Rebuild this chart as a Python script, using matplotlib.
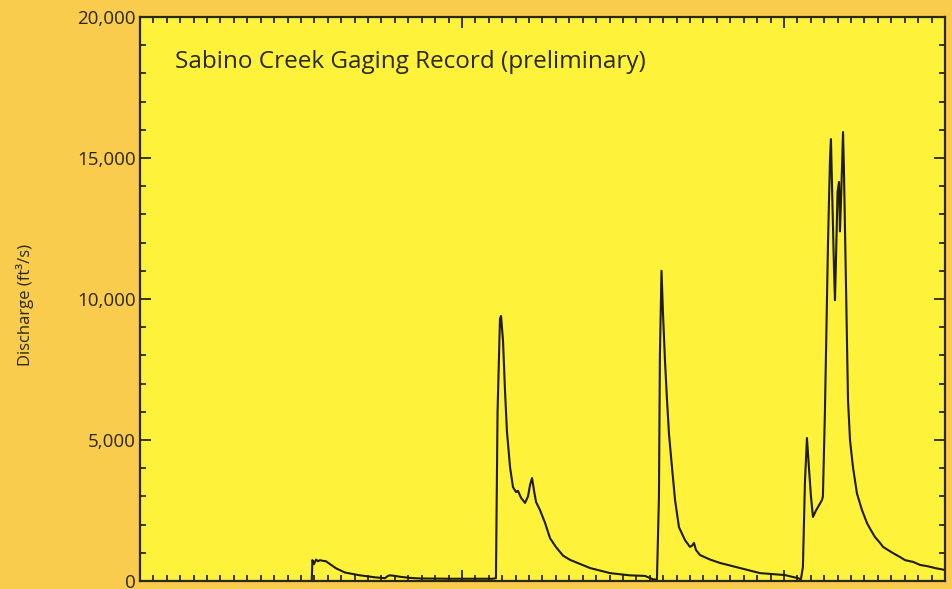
import matplotlib
matplotlib.use("Agg")
import matplotlib.pyplot as plt
from matplotlib.ticker import MultipleLocator, FuncFormatter

# ---- data (time in days from start of window, discharge in ft^3/s) ----
days = [12.80, 12.85, 12.97, 13.12, 13.27, 13.42, 13.57, 13.86, 14.16, 14.61,
        15.28, 16.40, 17.52, 18.26, 18.48, 18.63, 19.01, 19.38, 20.12, 20.87,
        23.11, 25.34, 26.31, 26.53, 26.65, 26.83, 26.91, 27.06, 27.20, 27.35,
        27.58, 27.80, 28.03, 28.17, 28.40, 28.70, 28.92, 29.07, 29.22, 29.37,
        29.52, 29.81, 30.19, 30.56, 31.01, 31.53, 32.05, 33.54, 35.03, 36.52,
        37.64, 38.24, 38.53, 38.68, 38.75, 38.87, 38.98, 39.13, 39.28, 39.43,
        39.65, 39.88, 40.17, 40.62, 40.99, 41.14, 41.29, 41.44, 41.74, 42.49,
        43.23, 44.72, 46.21, 48.07, 49.04, 49.26, 49.41, 49.56, 49.71, 49.86,
        50.01, 50.16, 50.38, 50.53, 50.83, 50.90, 51.05, 51.28, 51.43, 51.50,
        51.58, 51.73, 51.80, 51.88, 51.99, 52.10, 52.17, 52.25, 52.40, 52.47,
        52.62, 52.77, 52.92, 53.14, 53.44, 53.81, 54.19, 54.48, 54.78, 55.16,
        55.38, 55.75, 56.12, 56.65, 57.02, 57.39, 57.61, 58.14, 58.74, 59.25,
        60.00]
discharge = [0, 740, 600, 760, 700, 740, 720, 700, 600, 450,
             300, 200, 130, 100, 180, 200, 180, 150, 110, 90,
             80, 80, 80, 100, 6000, 9300, 9400, 8500, 6800, 5300,
             4040, 3330, 3150, 3200, 2950, 2770, 3000, 3400, 3650, 3200,
             2800, 2520, 2060, 1520, 1200, 900, 750, 460, 280, 200,
             180, 60, 50, 3000, 8000, 11000, 9500, 7800, 6420, 5200,
             4040, 2870, 1910, 1450, 1210, 1250, 1350, 1100, 920, 760,
             640, 460, 280, 210, 100, 60, 500, 3500, 5070, 4000,
             3000, 2270, 2500, 2620, 2870, 3000, 6000, 12000, 15000, 15670,
             14000, 11000, 9960, 11500, 13800, 14150, 12400, 13500, 15920, 14500,
             10500, 6420, 5000, 4040, 3100, 2520, 2050, 1800, 1560, 1350,
             1210, 1100, 990, 850, 740, 700, 680, 570, 520, 460,
             390]

y_ticks = [0, 5000, 10000, 15000, 20000]
title_text = "Sabino Creek Gaging Record (preliminary)"
y_label = "Discharge (ft\u00b3/s)"

BG = "#F9CC4E"
PLOT_BG = "#FFF23A"
INK = "#2A2712"

plt.rcParams['font.family'] = ['Open Sans', 'DejaVu Sans']

fig = plt.figure(figsize=(9.53, 5.89), dpi=100, facecolor=BG)
ax = fig.add_axes([140/953, 8/589, 805/953, 564/589])
ax.set_facecolor(PLOT_BG)

ax.plot(days, discharge, color="#1E1C08", lw=1.5, solid_joinstyle="round")

ax.set_xlim(0, 60)
ax.set_ylim(0, 20000)
ax.set_yticks(y_ticks)
ax.yaxis.set_major_formatter(FuncFormatter(lambda v, p: f"{int(v):,}"))
ax.yaxis.set_minor_locator(MultipleLocator(1000))
ax.xaxis.set_major_locator(MultipleLocator(24))
ax.xaxis.set_minor_locator(MultipleLocator(1))

for s in ax.spines.values():
    s.set_color(INK)
    s.set_linewidth(1.6)

ax.tick_params(which="both", direction="in", top=True, right=True,
               color=INK, width=1.3)
ax.tick_params(which="major", length=8)
ax.tick_params(which="minor", length=4.5)
ax.tick_params(axis="y", labelsize=13.5, labelcolor=INK, pad=3)
ax.tick_params(axis="x", labelbottom=False)

ax.text(35/805, 1 - (62-17)/564, title_text, transform=ax.transAxes,
        fontsize=17.5, color=INK, va="center", ha="left")

fig.text(25/953, 1 - 305/589, y_label, rotation=90, fontsize=12,
         color=INK, va="center", ha="center")

fig.savefig("out.png", dpi=100, facecolor=BG)
